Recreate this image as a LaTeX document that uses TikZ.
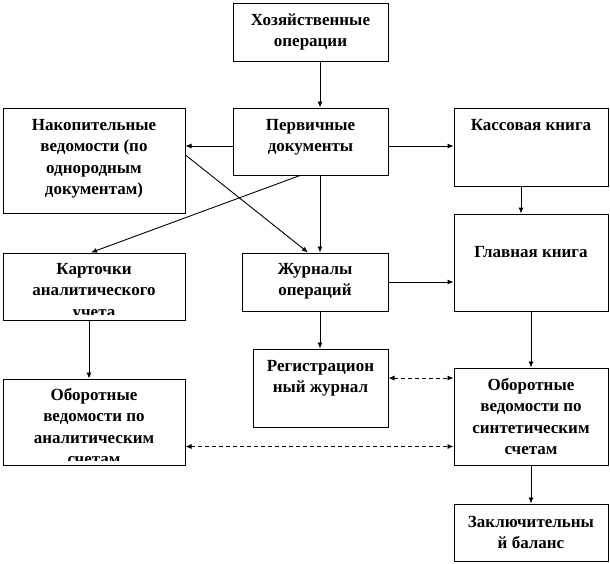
\documentclass[tikz,border=0pt]{standalone}
\usepackage{fontspec}
\setmainfont{Liberation Serif}
\usetikzlibrary{arrows.meta,calc}
\tikzset{
  box/.style={draw, line width=1pt, inner sep=0pt, rectangle},
  txt/.style={anchor=north, inner sep=0pt, align=center, font=\fontsize{17}{21.5}\selectfont\bfseries},
  arr/.style={line width=0.9pt, -{Latex[length=6pt,width=5pt]}},
  darr/.style={line width=0.9pt, dash pattern=on 4pt off 3pt, {Latex[length=6pt,width=5pt]}-{Latex[length=6pt,width=5pt]}}
}
\newcommand{\bx}[6]{\node[box, minimum width=#4-#2, minimum height=#5-#3] (#1) at ({(#2+#4)/2},{(#3+#5)/2}) {};}
\begin{document}
\begin{tikzpicture}[x=1pt,y=-1pt]
\useasboundingbox (0,0) rectangle (610,563);
% boxes
\node[box, minimum width=155pt, minimum height=58pt] (hoz) at (310.5,32) {};
\node[box, minimum width=182pt, minimum height=105pt] (nak) at (94,160.5) {};
\node[box, minimum width=155pt, minimum height=67pt] (perv) at (310.5,141.5) {};
\node[box, minimum width=154pt, minimum height=78pt] (kas) at (531,147) {};
\node[box, minimum width=154pt, minimum height=97pt] (glav) at (531,262.5) {};
\node[box, minimum width=182pt, minimum height=67pt] (kart) at (94,286.5) {};
\node[box, minimum width=146pt, minimum height=58pt] (zhur) at (315,282) {};
\node[box, minimum width=135pt, minimum height=78pt] (reg) at (320.5,388) {};
\node[box, minimum width=182pt, minimum height=86pt] (obA) at (94,422) {};
\node[box, minimum width=154pt, minimum height=97pt] (obS) at (531,416.5) {};
\node[box, minimum width=154pt, minimum height=57pt] (zak) at (531,532.5) {};
% texts
\node[txt] (thoz) at ($(hoz.north)+(0,7.3)$) {\strut Хозяйственные\\операции};
\node[txt] (tnak) at ($(nak.north)+(0,7.3)$) {\strut Накопительные\\ведомости (по\\однородным\\документам)};
\node[txt] (tperv) at ($(perv.north)+(0,7.3)$) {\strut Первичные\\документы};
\node[txt] (tkas) at ($(kas.north)+(0,7.3)$) {\strut Кассовая книга};
\node[txt] (tglav) at ($(glav.north)+(0,28.3)$) {\strut Главная книга};
\begin{scope}
\clip (3,253) rectangle (185,314);
\node[txt] (tkart) at ($(kart.north)+(0,6.3)$) {\strut Карточки\\аналитического\\учета};
\end{scope}
\node[txt] (tzhur) at ($(zhur.north)+(0,6.3)$) {\strut Журналы\\операций};
\node[txt] (treg) at ($(reg.north)+(0,7.3)$) {\strut Регистрацион\\ный журнал};
\begin{scope}
\clip (3,379) rectangle (185,460);
\node[txt] (tobA) at ($(obA.north)+(0,6.3)$) {\strut Оборотные\\ведомости по\\аналитическим\\счетам};
\end{scope}
\node[txt] (tobS) at ($(obS.north)+(0,7.3)$) {\strut Оборотные\\ведомости по\\синтетическим\\счетам};
\node[txt] (tzak) at ($(zak.north)+(0,8.3)$) {\strut Заключительны\\й баланс};
% connectors
\draw[arr] (hoz.south -| 320,0) -- (perv.north -| 320,0);
\draw[arr] (perv.west |- 0,146) -- (nak.east |- 0,146);
\draw[arr] (perv.east |- 0,146) -- (kas.west |- 0,146);
\draw[arr] (perv.south -| 300,0) -- (kart.north -| 91,0);
\draw[arr] (nak.east |- 0,155) -- (zhur.north -| 308,0);
\draw[arr] (perv.south -| 320,0) -- (zhur.north -| 320,0);
\draw[arr] (zhur.east) -- (zhur.east -| glav.west);
\draw[arr] (kas.south -| 521,0) -- (glav.north -| 521,0);
\draw[arr] (kart.south -| 89,0) -- (obA.north -| 89,0);
\draw[arr] (zhur.south -| 320,0) -- (reg.north -| 320,0);
\draw[arr] (glav.south) -- (obS.north);
\draw[darr] (reg.east |- 0,378) -- (obS.west |- 0,378);
\draw[darr] (obA.east |- 0,446.5) -- (obS.west |- 0,446.5);
\draw[arr] (obS.south) -- (zak.north);
\end{tikzpicture}
\end{document}
